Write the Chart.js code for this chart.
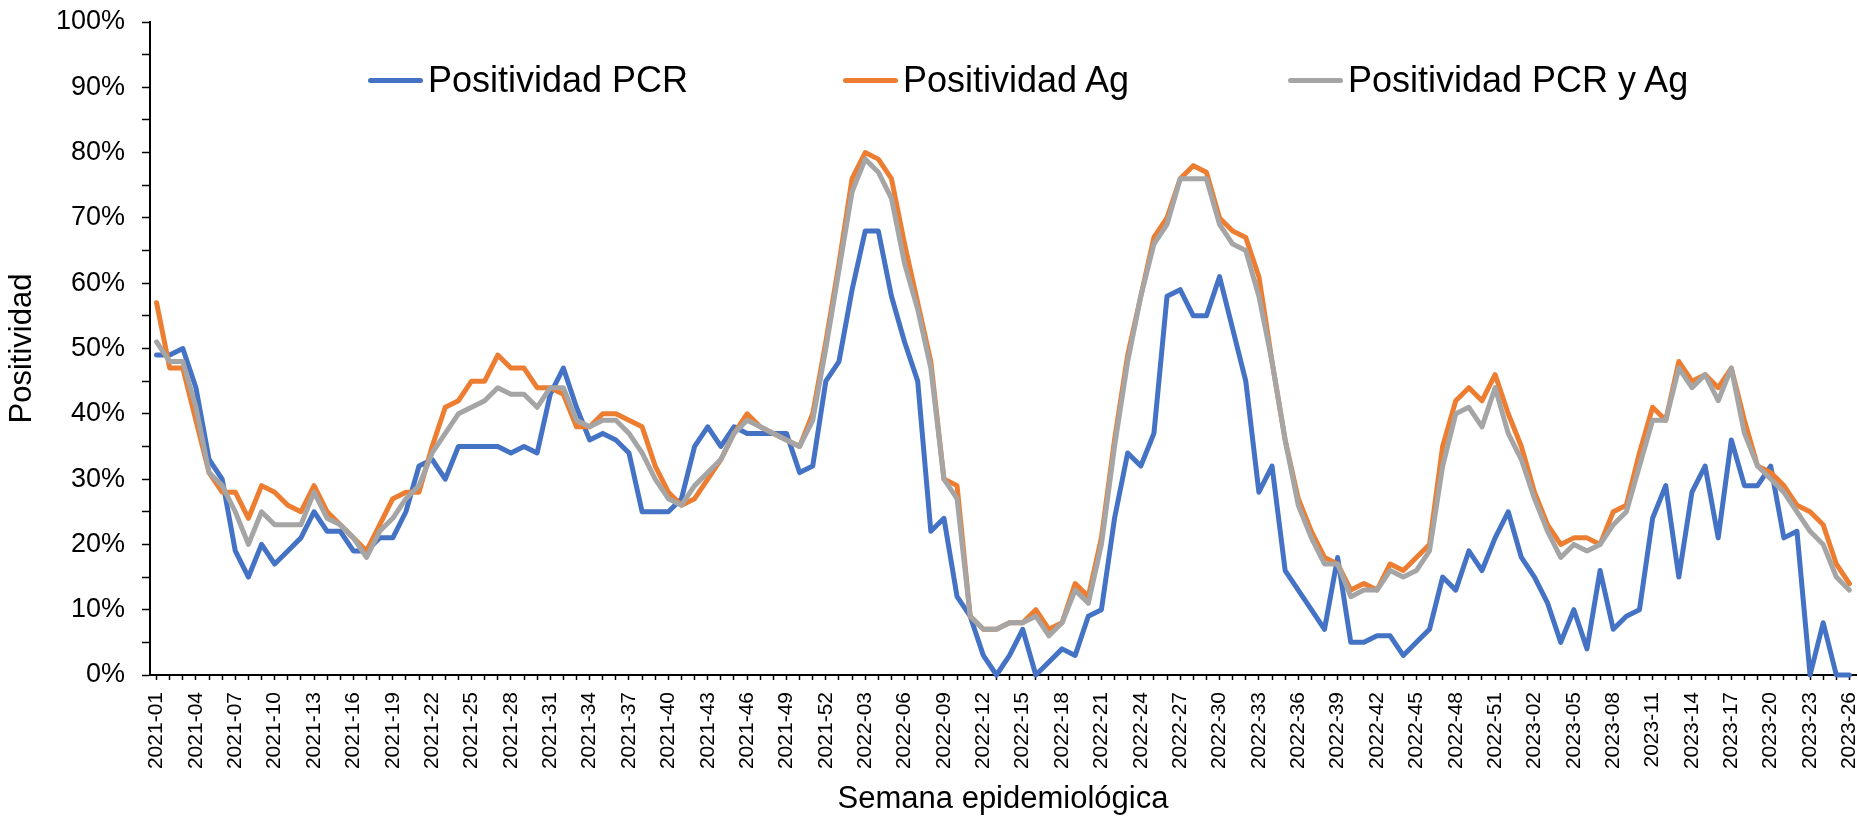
<!DOCTYPE html>
<html>
<head>
<meta charset="utf-8">
<script src="https://cdn.jsdelivr.net/npm/chart.js@4.4.1/dist/chart.umd.min.js"></script>
<style>
  body { margin: 0; background: #fff; }
  #wrap { position: relative; width: 1858px; height: 816px; }
  .leg { position: absolute; top: 58px; display: flex; align-items: center; height: 44px;
         font-family: "Liberation Sans", Arial, sans-serif; font-size: 36px; color: #000; white-space: nowrap; }
  .leg i { display: inline-block; width: 55px; height: 5px; border-radius: 3px; margin-right: 5px; }
</style>
</head>
<body>
<div id="wrap">
  <canvas id="chart" width="1858" height="816"></canvas>
  <div class="leg" style="left:368px"><i style="background:#4472C4"></i>Positividad PCR</div>
  <div class="leg" style="left:843px"><i style="background:#ED7D31"></i>Positividad Ag</div>
  <div class="leg" style="left:1288px"><i style="background:#A5A5A5"></i>Positividad PCR y Ag</div>
</div>
<script>
const weeks = [
  "2021-01","2021-02","2021-03","2021-04","2021-05","2021-06","2021-07","2021-08","2021-09","2021-10","2021-11","2021-12","2021-13",
  "2021-14","2021-15","2021-16","2021-17","2021-18","2021-19","2021-20","2021-21","2021-22","2021-23","2021-24","2021-25","2021-26",
  "2021-27","2021-28","2021-29","2021-30","2021-31","2021-32","2021-33","2021-34","2021-35","2021-36","2021-37","2021-38","2021-39",
  "2021-40","2021-41","2021-42","2021-43","2021-44","2021-45","2021-46","2021-47","2021-48","2021-49","2021-50","2021-51","2021-52",
  "2022-01","2022-02","2022-03","2022-04","2022-05","2022-06","2022-07","2022-08","2022-09","2022-10","2022-11","2022-12","2022-13",
  "2022-14","2022-15","2022-16","2022-17","2022-18","2022-19","2022-20","2022-21","2022-22","2022-23","2022-24","2022-25","2022-26",
  "2022-27","2022-28","2022-29","2022-30","2022-31","2022-32","2022-33","2022-34","2022-35","2022-36","2022-37","2022-38","2022-39",
  "2022-40","2022-41","2022-42","2022-43","2022-44","2022-45","2022-46","2022-47","2022-48","2022-49","2022-50","2022-51","2022-52",
  "2023-01","2023-02","2023-03","2023-04","2023-05","2023-06","2023-07","2023-08","2023-09","2023-10","2023-11","2023-12","2023-13",
  "2023-14","2023-15","2023-16","2023-17","2023-18","2023-19","2023-20","2023-21","2023-22","2023-23","2023-24","2023-25","2023-26"
];

// positividad semanal en %
const pcr = [
  49,49,50,44,33,30,19,15,20,17,19,21,25,
  22,22,19,19,21,21,25,32,33,30,35,35,35,
  35,34,35,34,43,47,41,36,37,36,34,25,25,
  25,27,35,38,35,38,37,37,37,37,31,32,45,
  48,59,68,68,58,51,45,22,24,12,9,3,0,
  3,7,0,2,4,3,9,10,24,34,32,37,58,
  59,55,55,61,53,45,28,32,16,13,10,7,18,
  5,5,6,6,3,5,7,15,13,19,16,21,25,
  18,15,11,5,10,4,16,7,9,10,24,29,15,
  28,32,21,36,29,29,32,21,22,0,8,0,0
];
const ag = [
  57,47,47,39,31,28,28,24,29,28,26,25,29,
  25,23,21,19,23,27,28,28,35,41,42,45,45,
  49,47,47,44,44,43,38,38,40,40,39,38,32,
  28,26,27,30,33,37,40,38,37,36,35,40,51,
  63,76,80,79,76,66,57,48,30,29,9,7,7,
  8,8,10,7,8,14,12,21,36,49,58,67,70,
  76,78,77,70,68,67,61,48,36,27,22,18,17,
  13,14,13,17,16,18,20,35,42,44,42,46,40,
  35,28,23,20,21,21,20,25,26,34,41,39,48,
  45,46,44,47,39,32,31,29,26,25,23,17,14
];
const pcrAg = [
  51,48,48,41,31,29,25,20,25,23,23,23,28,
  24,23,21,18,22,24,27,29,34,37,40,41,42,
  44,43,43,41,44,44,39,38,39,39,37,34,30,
  27,26,29,31,33,37,39,38,37,36,35,39,50,
  62,74,79,77,73,63,56,47,30,27,9,7,7,
  8,8,9,6,8,13,11,20,35,48,58,66,69,
  76,76,76,69,66,65,58,48,36,26,21,17,17,
  12,13,13,16,15,16,19,32,40,41,38,44,37,
  33,27,22,18,20,19,20,23,25,32,39,39,47,
  44,46,42,47,37,32,30,28,25,22,20,15,13
];

const font = "'Liberation Sans', Arial, sans-serif";

function line(label, values, color, order) {
  return {
    label,
    data: values,
    borderColor: color,
    backgroundColor: color,
    borderWidth: 5,
    pointRadius: 0,
    tension: 0,
    borderJoinStyle: 'round',
    borderCapStyle: 'round',
    clip: false,
    order
  };
}

new Chart(document.getElementById("chart"), {
  type: 'line',
  data: {
    labels: weeks,
    datasets: [
      line('Positividad PCR', pcr, '#4472C4', 3),
      line('Positividad Ag', ag, '#ED7D31', 2),
      line('Positividad PCR y Ag', pcrAg, '#A5A5A5', 1)
    ]
  },
  options: {
    responsive: false,
    animation: false,
    devicePixelRatio: 1,
    layout: { padding: { top: 22, right: 2, left: 0, bottom: 0 } },
    plugins: { legend: { display: false }, tooltip: { enabled: false } },
    scales: {
      x: {
        offset: true,
        grid: { offset: false, drawOnChartArea: false, tickLength: 5, tickColor: '#000', tickWidth: 1.5 },
        border: { color: '#000', width: 2 },
        ticks: {
          autoSkip: false, minRotation: 90, maxRotation: 90, padding: 12,
          color: '#000', font: { family: font, size: 21 },
          callback: (v, i) => i % 3 === 0 ? weeks[i] : ''
        },
        title: { display: true, text: 'Semana epidemiológica', color: '#000',
                 font: { family: font, size: 31, lineHeight: 1.05 }, padding: { top: 0, bottom: 0 } },
        afterFit: s => { s.height = 141; s.paddingLeft = 0; s.paddingRight = 0; }
      },
      y: {
        min: 0, max: 100,
        grid: { drawOnChartArea: false, tickLength: 8, tickColor: '#000', tickWidth: 1.5 },
        border: { color: '#000', width: 2 },
        ticks: {
          stepSize: 2.5, maxTicksLimit: 100, padding: 17, color: '#000',
          font: { family: font, size: 27, lineHeight: 0.5 },
          callback: v => Math.abs(v - Math.round(v / 10) * 10) < 1e-6 ? Math.round(v) + '%' : ''
        },
        title: { display: true, text: 'Positividad', color: '#000',
                 font: { family: font, size: 31 }, padding: { top: 4, bottom: 0 } },
        afterFit: s => { s.width = 150; s.paddingTop = 0; s.paddingBottom = 0; }
      }
    }
  }
});
</script>
</body>
</html>
